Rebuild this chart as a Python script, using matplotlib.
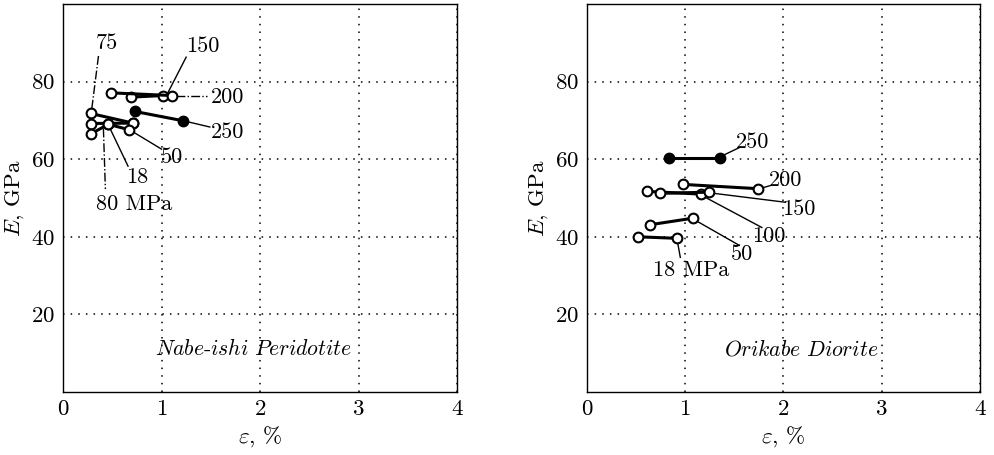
import matplotlib
matplotlib.use("Agg")
import matplotlib.pyplot as plt

plt.rcParams["font.family"] = "serif"
plt.rcParams["font.serif"] = ["cmr10"]
plt.rcParams["mathtext.fontset"] = "cm"
plt.rcParams["axes.formatter.use_mathtext"] = True

# ---- Nabe-ishi Peridotite: strain (%) and E (GPa) per confining pressure ----
# name: (strain, modulus, filled marker)
peri = {
    "75":  ([0.28, 0.71], [71.8, 69.3], False),
    "18":  ([0.28, 0.71], [69.2, 69.3], False),
    "80":  ([0.28, 0.46], [66.5, 69.0], False),
    "50":  ([0.46, 0.67], [69.0, 67.6], False),
    "150": ([0.69, 1.01], [76.0, 76.4], False),
    "200": ([0.49, 1.11], [77.1, 76.4], False),
    "250": ([0.73, 1.22], [72.3, 69.9], True),
}
# label text, text position, leader start, leader end, leader style
peri_labels = [
    ("75",     (0.44, 89.9), (0.36, 86.6), (0.29, 72.6), "dashdot"),
    ("150",    (1.42, 89.2), (1.25, 86.3), (1.06, 76.9), "solid"),
    ("200",    (1.67, 76.0), (1.15, 76.3), (1.46, 76.3), "dashdot"),
    ("250",    (1.67, 67.0), (1.24, 69.8), (1.49, 68.3), "solid"),
    ("50",     (1.11, 60.5), (0.70, 67.2), (1.00, 62.6), "solid"),
    ("18",     (0.75, 55.3), (0.47, 68.3), (0.66, 58.2), "solid"),
    ("80 MPa", (0.72, 48.4), (0.41, 67.9), (0.43, 52.3), "dashdot"),
]

# ---- Orikabe Diorite ----
dior = {
    "250": ([0.83, 1.35], [60.4, 60.4], True),
    "200": ([0.98, 1.74], [53.5, 52.4], False),
    "100": ([0.61, 1.16], [51.7, 51.0], False),
    "150": ([0.74, 1.24], [51.2, 51.5], False),
    "50":  ([0.64, 1.08], [43.1, 44.8], False),
    "18":  ([0.52, 0.92], [40.0, 39.6], False),
}
dior_labels = [
    ("250",    (1.69, 64.4), (1.37, 60.8), (1.56, 63.1), "solid"),
    ("200",    (2.02, 54.6), (1.77, 52.5), (1.88, 53.3), "solid"),
    ("150",    (2.16, 47.1), (1.26, 51.3), (2.02, 48.9), "solid"),
    ("100",    (1.85, 40.1), (1.18, 50.5), (1.78, 42.4), "solid"),
    ("50",     (1.58, 35.5), (1.10, 44.3), (1.55, 37.8), "solid"),
    ("18 MPa", (1.06, 31.4), (0.92, 38.9), (0.95, 34.7), "solid"),
]

panels = [
    (peri, peri_labels, r"$\mathit{Nabe}$-$\mathit{ishi\ Peridotite}$", 1.93),
    (dior, dior_labels, r"$\mathit{Orikabe\ Diorite}$", 2.18),
]

fig = plt.figure(figsize=(9.94, 4.55), dpi=100)
rects = [[0.0634, 0.1385, 0.3964, 0.8527], [0.5905, 0.1385, 0.3954, 0.8527]]

for rect, (series, labels, title, tx) in zip(rects, panels):
    ax = fig.add_axes(rect)
    for name, (xs, ys, filled) in series.items():
        ax.plot(xs, ys, color="black", lw=2.2, marker="o", ms=7, mew=1.5,
                mfc="black" if filled else "white", mec="black", zorder=3)
    for txt, (lx, ly), p0, p1, ls in labels:
        ax.plot([p0[0], p1[0]], [p0[1], p1[1]], color="black", lw=1.0,
                linestyle=ls, zorder=2)
        ax.text(lx, ly, txt, fontsize=16, ha="center", va="center")
    ax.text(tx, 11.1, title, fontsize=15.6, ha="center", va="center")
    ax.set_xlim(0, 4)
    ax.set_ylim(0, 100)
    ax.set_xticks([0, 1, 2, 3, 4])
    ax.set_yticks([20, 40, 60, 80])
    ax.tick_params(length=0, labelsize=16.5, pad=5.5)
    ax.grid(True, color="black", linestyle=(0, (1, 4)), lw=1.1)
    ax.set_axisbelow(True)
    ax.set_xlabel(r"$\varepsilon$, %", fontsize=16.5, labelpad=4)
    ax.set_ylabel(r"$E$, GPa", fontsize=16.5, labelpad=4)
    for sp in ax.spines.values():
        sp.set_linewidth(1.0)

fig.savefig("out.png", dpi=100)
